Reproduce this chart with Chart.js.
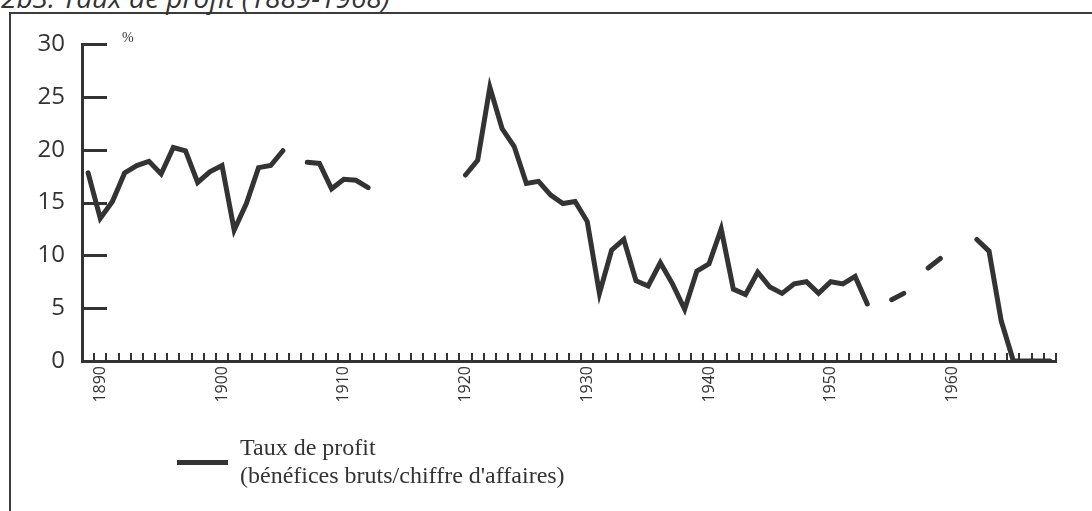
<!DOCTYPE html>
<html><head><meta charset="utf-8">
<script src="https://cdn.jsdelivr.net/npm/chart.js@4/dist/chart.umd.min.js"></script>
<style>
html,body{margin:0;padding:0;background:#fff;width:1092px;height:511px;overflow:hidden;}
#wrap{position:relative;width:1092px;height:511px;overflow:hidden;}
canvas{position:absolute;left:0;top:0;}
#frame{position:absolute;left:9px;top:12px;width:1200px;height:600px;border-left:2px solid #3c3c3c;border-top:2px solid #3c3c3c;}
#title{position:absolute;left:1px;top:-17px;font:italic 28px "Open Sans",sans-serif;line-height:1;color:#333;white-space:nowrap;}
#pct{position:absolute;left:122px;top:31px;font:14px "Liberation Serif",serif;line-height:1;color:#333;}
#legline{position:absolute;left:177px;top:460px;width:51px;height:5px;background:#333;}
#legtext{position:absolute;left:240px;top:433px;font:24px "Liberation Serif",serif;line-height:28px;color:#333;white-space:nowrap;}
</style></head>
<body>
<div id="wrap">
<div id="frame"></div>
<div id="title">2b3. Taux de profit (1889-1968)</div>
<canvas id="c" width="1092" height="511"></canvas>
<div id="pct">%</div>
<div id="legline"></div>
<div id="legtext">Taux de profit<br>(bénéfices bruts/chiffre d'affaires)</div>
</div>
<script>
// ---- data ----
const years = [];
for (let yr = 1889; yr <= 1968; yr++) years.push(yr);
const profitRate = [
  17.8, 13.5, 15.1, 17.8, 18.5, 18.9, 17.7, 20.2, 19.9, 16.9, 17.9,   // 1889-1899
  18.5, 12.4, 14.9, 18.3, 18.5, 19.9, null, 18.8, 18.7, 16.3,          // 1900-1909
  17.2, 17.1, 16.4, null, null, null, null, null, null, null,          // 1910-1919
  17.6, 19.0, 25.9, 22.0, 20.3, 16.8, 17.0, 15.7, 14.9, 15.1,          // 1920-1929
  13.2, 6.4, 10.5, 11.5, 7.6, 7.1, 9.3, 7.3, 4.9, 8.5,                 // 1930-1939
  9.2, 12.5, 6.8, 6.3, 8.4, 7.0, 6.4, 7.3, 7.5, 6.4,                   // 1940-1949
  7.5, 7.3, 8.0, 5.4, null, 5.8, 6.4, null, 8.8, 9.7,                  // 1950-1959
  null, null, 11.5, 10.4, 3.8, 0, 0, 0, 0                              // 1960-1968
];
const xLabelYears = [1890, 1900, 1910, 1920, 1930, 1940, 1950, 1960];
const yTickValues = [0, 5, 10, 15, 20, 25, 30];
const xMin = 1888.5, xMax = 1968.5;

const ink = '#333333';

const axisTicks = {
  id: 'axisTicks',
  beforeDatasetsDraw(chart) {
    const {ctx, scales: {x, y}} = chart;
    ctx.save();
    ctx.strokeStyle = ink;
    ctx.lineCap = 'butt';
    ctx.lineWidth = 3;
    const x0 = x.left;
    yTickValues.forEach(v => {
      if (v === 0) return;
      const py = Math.round(y.getPixelForValue(v)) + 0.5;
      ctx.beginPath(); ctx.moveTo(x0, py); ctx.lineTo(x0 + 25, py); ctx.stroke();
    });
    ctx.lineWidth = 2;
    const base = y.getPixelForValue(0);
    for (let t = xMin + 1; t <= xMax + 0.001; t++) {
      const px = Math.round(x.getPixelForValue(t));
      ctx.beginPath(); ctx.moveTo(px, base); ctx.lineTo(px, base - 8); ctx.stroke();
    }
    ctx.restore();
  }
};

new Chart(document.getElementById('c'), {
  type: 'line',
  data: {
    datasets: [{
      label: 'Taux de profit',
      data: years.map((yr, i) => ({x: yr, y: profitRate[i]})),
      borderColor: ink,
      borderWidth: 5,
      borderCapStyle: 'round',
      borderJoinStyle: 'miter',
      pointRadius: 0,
      tension: 0,
      spanGaps: false,
      fill: false
    }]
  },
  options: {
    responsive: false,
    animation: false,
    devicePixelRatio: 1,
    layout: {padding: {left: 0, right: 36, top: 44, bottom: 0}},
    plugins: {legend: {display: false}, tooltip: {enabled: false}, title: {display: false}},
    scales: {
      x: {
        type: 'linear',
        min: xMin, max: xMax,
        grid: {display: false, drawTicks: false},
        border: {display: true, color: ink, width: 3},
        afterBuildTicks: s => { s.ticks = xLabelYears.map(v => ({value: v})); },
        afterFit: s => { s.height = 150; },
        ticks: {
          autoSkip: false, minRotation: 90, maxRotation: 90, padding: 5,
          color: ink, font: {family: '"Open Sans", sans-serif', size: 16},
          callback: v => String(v)
        }
      },
      y: {
        type: 'linear',
        min: 0, max: 30,
        grid: {display: false, drawTicks: false},
        border: {display: true, color: ink, width: 3},
        afterBuildTicks: s => { s.ticks = yTickValues.map(v => ({value: v})); },
        afterFit: s => { s.width = 82; },
        ticks: {
          padding: 17, color: ink,
          font: {family: '"Open Sans", sans-serif', size: 24},
          callback: v => String(v)
        }
      }
    }
  },
  plugins: [axisTicks]
});
</script>
</body></html>
